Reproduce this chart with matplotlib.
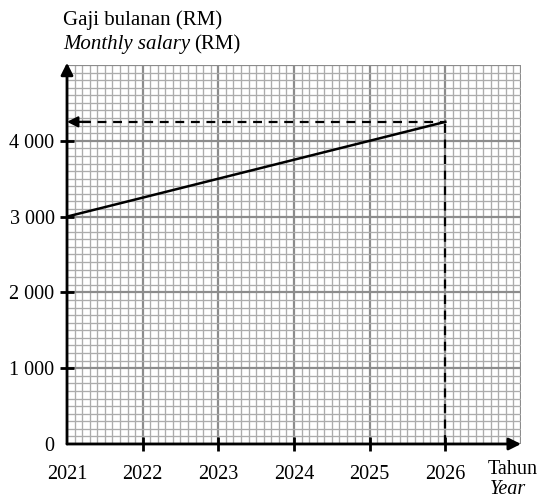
import numpy as np
import matplotlib.pyplot as plt

plt.rcParams['font.family'] = ['Liberation Serif', 'DejaVu Serif']

# data
years = [2021, 2026]
salary = [3000, 4250]
read_year = 2026
read_salary = 4250

year_ticks = [2021, 2022, 2023, 2024, 2025, 2026]
year_labels = ['2021', '2022', '2023', '2024', '2025', '2026']
salary_ticks = [0, 1000, 2000, 3000, 4000]
salary_labels = ['0', '1 000', '2 000', '3 000', '4 000']

x_min, x_max = 2021, 2027
y_min, y_max = 0, 5000

fig = plt.figure(figsize=(5.43, 4.99), dpi=100)
ax = fig.add_axes([67 / 543, 55 / 499, (521 - 67) / 543, (444 - 65) / 499])
ax.set_xlim(x_min, x_max)
ax.set_ylim(y_min, y_max)
for s in ax.spines.values():
    s.set_visible(False)

# graph paper
for xv in np.arange(x_min, x_max + 0.001, 0.1):
    major = abs(xv - round(xv)) < 1e-6
    ax.axvline(xv, color='#8c8c8c' if major else '#acacac',
               lw=1.6 if major else 0.95, zorder=1)
for yv in np.arange(y_min, y_max + 0.1, 100):
    major = abs(yv % 1000) < 1e-6
    ax.axhline(yv, color='#8c8c8c' if major else '#acacac',
               lw=1.6 if major else 0.95, zorder=1)

ax.set_xticks(year_ticks)
ax.set_xticklabels(year_labels, fontsize=14.5)
ax.set_yticks(salary_ticks)
ax.set_yticklabels(salary_labels, fontsize=14.5)
ax.tick_params(axis='both', length=0)
ax.tick_params(axis='x', pad=15)
ax.tick_params(axis='y', pad=9)

# axes with arrows
ax.annotate('', xy=(x_max, 0), xytext=(x_min, 0),
            arrowprops=dict(arrowstyle='-|>', color='black', lw=2,
                            mutation_scale=18, shrinkA=0, shrinkB=0),
            annotation_clip=False, zorder=5)
ax.annotate('', xy=(x_min, y_max + 30), xytext=(x_min, 0),
            arrowprops=dict(arrowstyle='-|>', color='black', lw=2,
                            mutation_scale=18, shrinkA=0, shrinkB=0),
            annotation_clip=False, zorder=5)

# tick marks crossing the axes
ax.plot(year_ticks[1:], [0] * (len(year_ticks) - 1), ls='none', marker='|',
        ms=10, mew=2, color='black', clip_on=False, zorder=6)
ax.plot([x_min] * (len(salary_ticks) - 1), salary_ticks[1:], ls='none', marker='_',
        ms=10, mew=2, color='black', clip_on=False, zorder=6)

# salary line
ax.plot(years, salary, color='black', lw=1.8, zorder=4)

# reading lines
ax.plot([read_year, read_year], [0, read_salary], color='black', lw=1.6,
        ls=(0, (4, 3)), zorder=4)
ax.plot([x_min + 0.2, read_year], [read_salary, read_salary], color='black', lw=1.6,
        ls=(0, (4, 3)), zorder=4)
ax.annotate('', xy=(x_min, read_salary), xytext=(x_min + 0.3, read_salary),
            arrowprops=dict(arrowstyle='-|>', color='black', lw=1.6,
                            mutation_scale=16, shrinkA=0, shrinkB=0), zorder=5)

# axis titles
fig.text(63 / 543, 1 - 20 / 499, 'Gaji bulanan (RM)', fontsize=15, va='center', ha='left')
t1 = fig.text(63 / 543, 1 - 45 / 499, 'Monthly salary', fontsize=15, va='center',
              ha='left', style='italic')
fig.canvas.draw()
bb = t1.get_window_extent()
fig.text(bb.x1 / fig.bbox.width + 4 / 543, 1 - 45 / 499, '(RM)', fontsize=15,
         va='center', ha='left')

fig.text(488 / 543, 1 - 470 / 499, 'Tahun', fontsize=14.5, va='center', ha='left')
fig.text(490 / 543, 1 - 489 / 499, 'Year', fontsize=14.5, va='center', ha='left',
         style='italic')

fig.savefig('out.png', dpi=100)
